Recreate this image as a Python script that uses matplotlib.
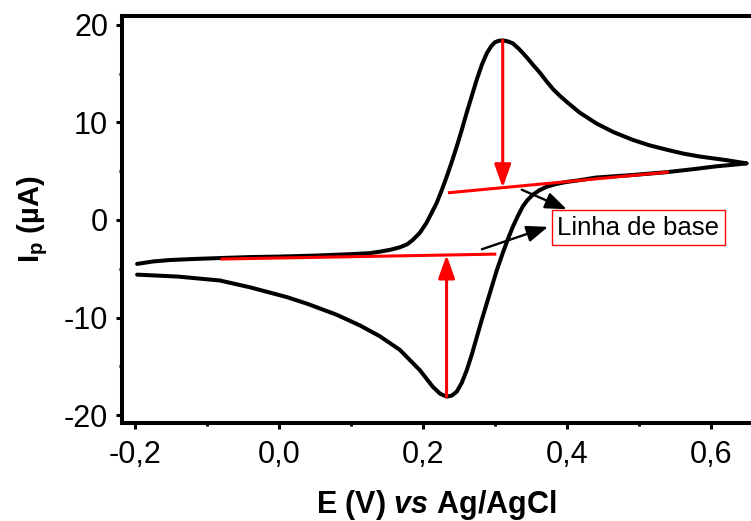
import numpy as np
import matplotlib
matplotlib.use("Agg")
import matplotlib.pyplot as plt
from matplotlib.ticker import FixedLocator, MultipleLocator

plt.rcParams["font.family"] = ["Liberation Sans", "DejaVu Sans"]
plt.rcParams["mathtext.fontset"] = "custom"
plt.rcParams["mathtext.rm"] = "Liberation Sans"
plt.rcParams["mathtext.bf"] = "Liberation Sans:bold"
plt.rcParams["mathtext.it"] = "Liberation Sans:italic:bold"
plt.rcParams["axes.unicode_minus"] = False

# forward (anodic) sweep, potential in V and current in uA
e_fwd = [-0.197, -0.175, -0.151, -0.120, -0.082, -0.040, 0.000, 0.050, 0.100,
         0.126, 0.140, 0.155, 0.168, 0.178, 0.186, 0.196, 0.205, 0.212, 0.219,
         0.226, 0.233, 0.240, 0.247, 0.254, 0.261, 0.268, 0.275, 0.282, 0.289,
         0.295, 0.300, 0.305, 0.311, 0.318, 0.325, 0.334, 0.344, 0.353, 0.3625,
         0.372, 0.381, 0.390, 0.400, 0.418, 0.441, 0.465, 0.492, 0.515, 0.539,
         0.562, 0.585, 0.620, 0.650]
i_fwd = [-4.5, -4.25, -4.1, -4.0, -3.9, -3.8, -3.75, -3.65, -3.5,
         -3.4, -3.25, -3.05, -2.8, -2.5, -2.05, -1.3, -0.3, 0.7, 1.7,
         3.0, 4.4, 5.9, 7.5, 9.2, 11.0, 12.7, 14.4, 15.9, 17.1,
         17.8, 18.2, 18.35, 18.4, 18.3, 18.1, 17.5, 16.7, 15.9, 15.1,
         14.2, 13.4, 12.75, 12.1, 11.0, 9.9, 9.0, 8.2, 7.65, 7.2,
         6.8, 6.5, 6.15, 5.8]

# reverse (cathodic) sweep
e_rev = [0.650, 0.630, 0.608, 0.575, 0.539, 0.490, 0.441, 0.420, 0.400, 0.386,
         0.372, 0.362, 0.353, 0.345, 0.339, 0.332, 0.325, 0.318, 0.311, 0.303,
         0.296, 0.289, 0.282, 0.275, 0.268, 0.261, 0.254, 0.247, 0.240, 0.233,
         0.224, 0.214, 0.196, 0.168, 0.140, 0.1125, 0.080, 0.040, 0.011, -0.040,
         -0.082, -0.140, -0.197]
i_rev = [5.8, 5.65, 5.5, 5.2, 4.9, 4.6, 4.35, 4.1, 3.9, 3.7,
         3.4, 3.05, 2.6, 2.0, 1.4, 0.4, -0.7, -2.0, -3.4, -5.1,
         -6.8, -8.5, -10.2, -12.0, -13.8, -15.4, -16.7, -17.6, -18.0, -18.1,
         -17.8, -17.1, -15.4, -13.3, -11.9, -10.8, -9.7, -8.6, -7.9, -6.9,
         -6.2, -5.8, -5.6]

# baselines under the two peaks
base_ox_e = [0.237, 0.540]
base_ox_i = [2.8, 4.9]
base_red_e = [-0.079, 0.300]
base_red_i = [-4.0, -3.5]

# peak positions (E, I)
peak_ox = (0.311, 18.4)
peak_red = (0.233, -18.1)

x_ticks = [-0.2, 0.0, 0.2, 0.4, 0.6]
x_labels = ["-0,2", "0,0", "0,2", "0,4", "0,6"]
y_ticks = [-20, -10, 0, 10, 20]
y_labels = ["-20", "-10", "0", "10", "20"]

fig = plt.figure(figsize=(7.51, 5.21), dpi=100)
ax = fig.add_axes([122 / 751, 98 / 521, 1 - 122 / 751, 407 / 521])

ax.plot(e_fwd + e_rev, i_fwd + i_rev, color="black", lw=2.9,
        solid_joinstyle="round", solid_capstyle="round", zorder=2)

# baselines
ax.plot(base_ox_e, base_ox_i, color="red", lw=2.2, zorder=3)
ax.plot(base_red_e, base_red_i, color="red", lw=2.2, zorder=3)

# peak current arrows from peak down/up to the baseline
red_arrow = dict(arrowstyle="-|>,head_length=0.7,head_width=0.25",
                 color="red", lw=2.2, shrinkA=0, shrinkB=0, mutation_scale=20)
ox_base = np.interp(peak_ox[0], base_ox_e, base_ox_i)
red_base = np.interp(peak_red[0], base_red_e, base_red_i)
ax.annotate("", xy=(peak_ox[0], ox_base), xytext=peak_ox,
            arrowprops=red_arrow, zorder=4)
ax.annotate("", xy=(peak_red[0], red_base), xytext=peak_red,
            arrowprops=red_arrow, zorder=4)

# label for the baselines
black_arrow = dict(arrowstyle="-|>,head_length=0.65,head_width=0.25",
                   color="black", lw=1.7, shrinkA=0, shrinkB=0,
                   mutation_scale=20)
ax.annotate("", xy=(0.400, 1.1), xytext=(0.3375, 3.1), arrowprops=black_arrow)
ax.annotate("", xy=(0.374, -0.7), xytext=(0.282, -3.0), arrowprops=black_arrow)
ax.text(0.387, -0.8, "Linha de base", fontsize=18.5, ha="left", va="center",
        bbox=dict(boxstyle="square,pad=0.22", fc="white", ec="red", lw=1.0))

ax.set_xlim(-0.218, 0.656)
ax.set_ylim(-20.8, 20.9)

ax.xaxis.set_major_locator(FixedLocator(x_ticks))
ax.set_xticklabels(x_labels)
ax.xaxis.set_minor_locator(MultipleLocator(0.1))
ax.yaxis.set_major_locator(FixedLocator(y_ticks))
ax.set_yticklabels(y_labels)
ax.yaxis.set_minor_locator(MultipleLocator(5))

ax.tick_params(which="major", direction="out", length=4, width=2.2,
               labelsize=22, pad=6)
ax.tick_params(axis="x", which="major", pad=8)
ax.tick_params(which="minor", direction="out", length=2.2, width=2.2)
ax.tick_params(top=False, right=False, which="both")

for side in ["left", "bottom", "top"]:
    ax.spines[side].set_linewidth(2.9)
ax.spines["right"].set_visible(False)

ax.set_xlabel(r"E (V) $\mathit{vs}$ Ag/AgCl", fontsize=22,
              fontweight="bold", labelpad=13)
ax.set_ylabel(r"$\mathbf{I_p}$ (µA)", fontsize=21, fontweight="bold",
              labelpad=10)

fig.savefig("out.png", dpi=100)
